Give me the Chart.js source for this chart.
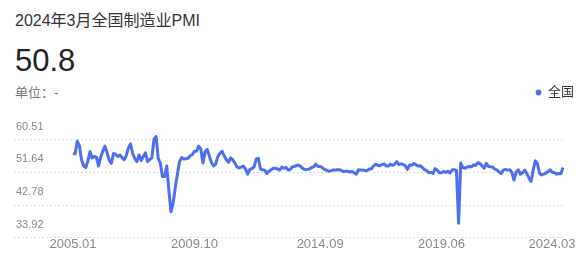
<!DOCTYPE html>
<html>
<head>
<meta charset="utf-8">
<script src="https://cdn.jsdelivr.net/npm/chart.js@4/dist/chart.umd.min.js"></script>
<style>
    body { margin: 0; background: #fff; font-family: "Liberation Sans", "Noto Sans CJK SC", Arial, sans-serif; }
    .wrap { position: relative; width: 588px; height: 258px; overflow: hidden; }
    .title { position: absolute; left: 15px; top: 13px; font-size: 16px; line-height: 16px; color: #333; }
    .value { position: absolute; left: 15px; top: 45px; font-size: 31px; line-height: 31px; color: #222; }
    .unit { position: absolute; left: 15px; top: 86px; font-size: 13px; line-height: 13px; color: #777; }
    .chart-box { position: absolute; left: 0; top: 78px; width: 588px; height: 180px; }
</style>
</head>
<body>
<div class="wrap">
    <div class="title">2024年3月全国制造业PMI</div>
    <div class="value">50.8</div>
    <div class="unit">单位：-</div>
    <div class="chart-box"><canvas id="pmiChart"></canvas></div>
</div>
<script>
const seriesName = '全国';

// 全国制造业PMI, 2005.01 - 2024.03, one row per year
const pmiValues = [
    54.7, 54.5, 57.9, 56.7, 52.9, 51.2, 50.8, 52.6, 55.1, 53.4, 53.8, 53.6,
    51.2, 53.6, 55.3, 56.6, 54.8, 52.8, 51.9, 54.6, 54.4, 53.8, 54.2, 53.5,
    52.9, 54.0, 56.1, 57.2, 54.6, 53.2, 52.4, 54.2, 52.7, 53.8, 54.8, 52.4,
    53.0, 53.4, 58.4, 59.2, 53.3, 52.0, 48.4, 48.4, 51.2, 44.6, 38.8, 41.2,
    45.3, 49.0, 52.4, 53.5, 53.1, 53.2, 53.3, 54.0, 54.3, 55.2, 55.2, 56.6,
    55.8, 52.0, 55.1, 55.7, 53.9, 52.1, 51.2, 51.7, 53.8, 54.7, 55.2, 53.9,
    52.9, 52.2, 53.4, 52.9, 52.0, 50.9, 50.7, 50.9, 51.2, 50.4, 49.0, 50.3,
    50.5, 51.0, 53.1, 53.3, 50.4, 50.2, 50.1, 49.2, 49.8, 50.2, 50.6, 50.6,
    50.4, 50.1, 50.9, 50.6, 50.8, 50.1, 50.3, 51.0, 51.1, 51.4, 51.4, 51.0,
    50.5, 50.2, 50.3, 50.4, 50.8, 51.0, 51.7, 51.1, 51.1, 50.8, 50.3, 50.1,
    49.8, 49.9, 50.1, 50.1, 50.2, 50.2, 50.0, 49.7, 49.8, 49.8, 49.6, 49.7,
    49.4, 49.0, 50.2, 50.1, 50.1, 50.0, 49.9, 50.4, 50.4, 51.2, 51.7, 51.4,
    51.3, 51.6, 51.8, 51.2, 51.2, 51.7, 51.4, 51.7, 52.4, 51.6, 51.8, 51.6,
    51.3, 50.3, 51.5, 51.4, 51.9, 51.5, 51.2, 51.3, 50.8, 50.2, 50.0, 49.4,
    49.5, 49.2, 50.5, 50.1, 49.4, 49.4, 49.7, 49.5, 49.8, 49.3, 50.2, 50.2,
    50.0, 35.7, 52.0, 50.8, 50.6, 50.9, 51.1, 51.0, 51.5, 51.4, 52.1, 51.9,
    51.3, 50.6, 51.9, 51.1, 51.0, 50.9, 50.4, 50.1, 49.6, 49.2, 50.1, 50.3,
    50.1, 50.2, 49.5, 47.4, 49.6, 50.2, 49.0, 49.4, 50.1, 49.2, 48.0, 47.0,
    50.1, 52.6, 51.9, 49.2, 48.8, 49.0, 49.3, 49.7, 50.2, 49.5, 49.4, 49.0,
    49.2, 49.1, 50.8
];

// month categories, starting 2005.01
const startYear = 2005;
const monthLabels = pmiValues.map((_, i) => {
    const year = startYear + Math.floor(i / 12);
    const month = String(i % 12 + 1).padStart(2, '0');
    return year + '.' + month;
});

const xTickLabels = ['2005.01', '2009.10', '2014.09', '2019.06', '2024.03'];
const yTickValues = [33.92, 42.78, 51.64, 60.51];

// axis range and style
const yMin = 31.72;
const yMax = 66.65;
const gridShift = 2.2;   // dotted lines sit a little below each label
const blue = '#4e6ef2';
const fontFamily = '"Liberation Sans", "Noto Sans CJK SC", Arial, sans-serif';
const lastIndex = monthLabels.length - 1;

// shared look of the two bottom label rows
function monthTicks(extra) {
    return Object.assign({
        autoSkip: false,
        maxRotation: 0,
        minRotation: 0,
        color: '#888',
        font: { size: 13, family: fontFamily }
    }, extra);
}

new Chart(document.getElementById('pmiChart'), {
    type: 'line',
    data: {
        labels: monthLabels,
        datasets: [{
            label: seriesName,
            data: pmiValues,
            borderColor: blue,
            backgroundColor: blue,
            borderWidth: 3,
            borderJoinStyle: 'round',
            pointRadius: 0,
            tension: 0,
            fill: false,
            yAxisID: 'y'
        }]
    },
    options: {
        responsive: true,
        maintainAspectRatio: false,
        animation: false,
        layout: { padding: { left: 14, right: 6, top: 0, bottom: 8 } },
        plugins: {
            tooltip: { enabled: false },
            legend: {
                position: 'top',
                align: 'end',
                labels: {
                    usePointStyle: true,
                    pointStyle: 'circle',
                    boxWidth: 6,
                    boxHeight: 2,
                    padding: 8,
                    color: '#333',
                    font: { size: 13, family: fontFamily }
                }
            }
        },
        scales: {
            x: {
                type: 'category',
                weight: 0,
                afterFit: scale => { scale.height = 12; },
                grid: { display: false },
                border: { display: false },
                ticks: monthTicks({
                    padding: -9,
                    callback: (value, index) => {
                        const label = monthLabels[index];
                        return index < lastIndex && xTickLabels.includes(label) ? label : '';
                    }
                })
            },
            // last month label, pulled inside the right edge (mirrored so it is not clipped)
            x2: {
                type: 'category',
                position: 'bottom',
                weight: 1,
                afterFit: scale => { scale.height = 0; },
                grid: { display: false },
                border: { display: false },
                ticks: monthTicks({
                    mirror: true,
                    padding: -2,
                    labelOffset: -11,
                    callback: (value, index) => {
                        const label = monthLabels[index];
                        return index === lastIndex && xTickLabels.includes(label) ? label : '';
                    }
                })
            },
            y: {
                position: 'left',
                weight: 2,
                min: yMin,
                max: yMax,
                afterBuildTicks: scale => { scale.ticks = yTickValues.map(v => ({ value: v })); },
                afterFit: scale => { scale.width = 0; },
                grid: { display: false },
                border: { display: false },
                ticks: {
                    mirror: true,
                    padding: 2,
                    labelOffset: -5,
                    color: '#888',
                    font: { size: 11, family: fontFamily },
                    callback: v => v.toFixed(2)
                }
            },
            g: {
                position: 'left',
                weight: 1,
                min: yMin,
                max: yMax,
                afterBuildTicks: scale => {
                    scale.ticks = yTickValues.map(v => ({ value: v - gridShift }));
                },
                grid: {
                    color: '#dcdcdc',
                    tickLength: 59,
                    tickBorderDash: [2, 2]
                },
                border: { display: false, dash: [2, 2] },
                ticks: { display: false }
            },
            r: {
                position: 'right',
                afterFit: scale => { scale.width = 19; },
                grid: { display: false },
                border: { display: false },
                ticks: { display: false }
            }
        }
    }
});
</script>
</body>
</html>
